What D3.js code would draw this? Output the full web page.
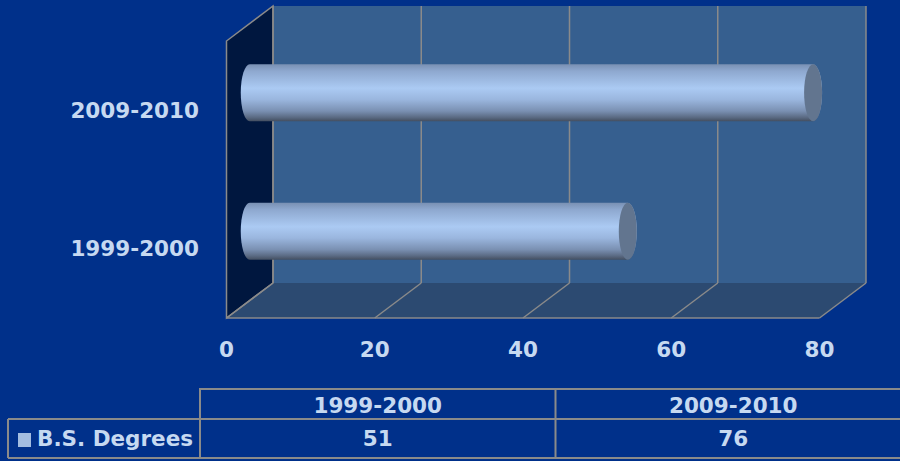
<!DOCTYPE html>
<html>
<head>
<meta charset="utf-8">
<script src="https://cdn.jsdelivr.net/npm/d3@7"></script>
<style>
  html, body { margin: 0; padding: 0; background: #00308a; }
  svg { display: block; }
  text { font-family: "DejaVu Sans", Verdana, sans-serif; font-weight: bold; fill: #c6d9f1; }
</style>
</head>
<body>
<svg id="chart" width="900" height="461"></svg>
<script>
// Data
const categories = ["1999-2000", "2009-2010"];
const seriesName = "B.S. Degrees";
const seriesValues = [51, 76];
const xTicks = [0, 20, 40, 60, 80];

const W = 900, H = 461;
const svg = d3.select("#chart");

// 3D box geometry: back wall plane, plus a depth offset toward the viewer
const backLeft = 273, backRight = 866, backTop = 6, backBottom = 283;
const depthX = -46.5, depthY = 35;

const xBack = d3.scaleLinear().domain([0, 80]).range([backLeft, backRight]);
const xFront = v => xBack(v) + depthX;
const xMid = v => xBack(v) + depthX / 2;

// Categories run bottom-to-top
const yBand = d3.scaleBand()
  .domain(categories.slice().reverse())
  .range([backTop, backBottom])
  .paddingInner(0.588)
  .paddingOuter(0.294);

const defs = svg.append("defs");
const grad = defs.append("linearGradient")
  .attr("id", "cyl").attr("x1", 0).attr("y1", 0).attr("x2", 0).attr("y2", 1);
[[0, "#7990b3"], [0.12, "#8ea8cf"], [0.42, "#abcaf3"], [0.62, "#9ab6de"],
 [0.82, "#7a90b2"], [0.93, "#5b6b84"], [1, "#434e60"]]
  .forEach(([o, c]) => grad.append("stop").attr("offset", o).attr("stop-color", c));

const gridColor = "#8a8a8a";

// Back wall
svg.append("rect")
  .attr("x", backLeft).attr("y", backTop)
  .attr("width", backRight - backLeft).attr("height", backBottom - backTop)
  .attr("fill", "#365f8f");

// Floor
svg.append("path")
  .attr("d", `M${xBack(0)},${backBottom} L${xBack(80)},${backBottom} L${xFront(80)},${backBottom + depthY} L${xFront(0)},${backBottom + depthY} Z`)
  .attr("fill", "#2c4a71");

// Left side wall
svg.append("path")
  .attr("d", `M${xBack(0)},${backTop} L${xBack(0)},${backBottom} L${xFront(0)},${backBottom + depthY} L${xFront(0)},${backTop + depthY} Z`)
  .attr("fill", "#00173f")
  .attr("stroke", gridColor).attr("stroke-width", 1.5);

// Gridlines on back wall and floor
const grid = svg.append("g").attr("stroke", gridColor).attr("stroke-width", 1.5).attr("fill", "none");
grid.selectAll("line.v").data(xTicks).join("line")
  .attr("x1", d => xBack(d)).attr("x2", d => xBack(d))
  .attr("y1", backTop).attr("y2", backBottom);
grid.selectAll("line.f").data(xTicks).join("line")
  .attr("x1", d => xBack(d)).attr("x2", d => xFront(d))
  .attr("y1", backBottom).attr("y2", backBottom + depthY);
grid.append("line")
  .attr("x1", xFront(0)).attr("x2", xFront(80))
  .attr("y1", backBottom + depthY).attr("y2", backBottom + depthY);

// Cylinders, placed at mid depth
const rx = 9;
const bars = svg.append("g");
categories.forEach((cat, i) => {
  const v = seriesValues[i];
  const y0 = yBand(cat) + depthY / 2;
  const h = yBand.bandwidth();
  const ry = h / 2;
  const x0 = xMid(0), x1 = xMid(v);
  bars.append("path")
    .attr("d", `M${x0},${y0} L${x1},${y0} A${rx},${ry} 0 0 1 ${x1},${y0 + h} L${x0},${y0 + h} A${rx},${ry} 0 0 1 ${x0},${y0} Z`)
    .attr("fill", "url(#cyl)");
  bars.append("ellipse")
    .attr("cx", x1).attr("cy", y0 + ry).attr("rx", rx).attr("ry", ry)
    .attr("fill", "#62758f");
});

// Category labels aligned with the front plane
svg.append("g").selectAll("text").data(categories).join("text")
  .attr("x", 199)
  .attr("y", d => yBand(d) + yBand.bandwidth() / 2 + depthY)
  .attr("text-anchor", "end").attr("dominant-baseline", "central")
  .attr("font-size", 21.5)
  .text(d => d);

// Value axis labels along the front edge
svg.append("g").selectAll("text").data(xTicks).join("text")
  .attr("x", d => xFront(d))
  .attr("y", 349)
  .attr("text-anchor", "middle").attr("dominant-baseline", "central")
  .attr("font-size", 21.5)
  .text(d => d);

// Data table
const tX = d3.scaleBand().domain(categories).range([200, 911]);
const hdrTop = 389, rowTop = 419, rowBottom = 458, tLeft = 8;
const tbl = svg.append("g").attr("stroke", gridColor).attr("stroke-width", 2).attr("fill", "none");
tbl.append("path").attr("d",
  `M200,${rowTop} V${hdrTop} H${W + 5}` +
  ` M${tLeft},${rowTop} H${W + 5}` +
  ` M${tLeft},${rowBottom} H${W + 5}` +
  ` M${tLeft},${rowTop} V${rowBottom}` +
  ` M200,${rowTop} V${rowBottom}`);
tbl.selectAll("line.c").data(categories.slice(1)).join("line")
  .attr("x1", d => tX(d)).attr("x2", d => tX(d))
  .attr("y1", hdrTop).attr("y2", rowBottom);

svg.append("g").selectAll("text").data(categories).join("text")
  .attr("x", d => tX(d) + tX.bandwidth() / 2)
  .attr("y", (hdrTop + rowTop) / 2 + 1)
  .attr("text-anchor", "middle").attr("dominant-baseline", "central")
  .attr("font-size", 21.5)
  .text(d => d);

svg.append("g").selectAll("text").data(seriesValues).join("text")
  .attr("x", (d, i) => tX(categories[i]) + tX.bandwidth() / 2)
  .attr("y", (rowTop + rowBottom) / 2)
  .attr("text-anchor", "middle").attr("dominant-baseline", "central")
  .attr("font-size", 21.5)
  .text(d => d);

// Legend key inside the table
svg.append("rect")
  .attr("x", 18).attr("y", 433).attr("width", 13).attr("height", 14)
  .attr("fill", "#a3bde0");
svg.append("text")
  .attr("x", 37).attr("y", (rowTop + rowBottom) / 2)
  .attr("dominant-baseline", "central")
  .attr("font-size", 21.5)
  .text(seriesName);
</script>
</body>
</html>
